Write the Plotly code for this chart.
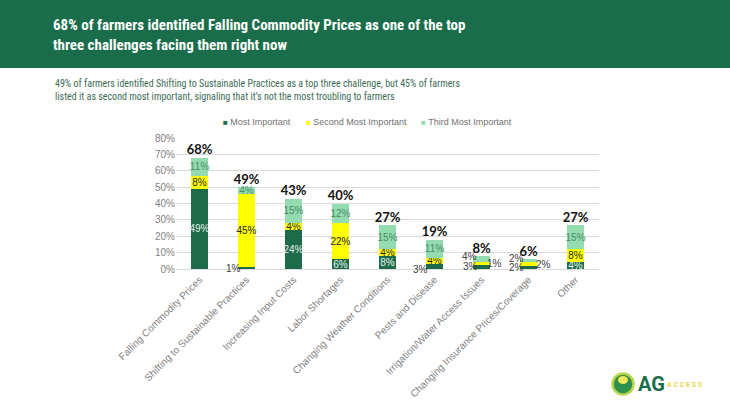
import plotly.graph_objects as go

categories = ["Falling Commodity Prices", "Shifting to Sustainable Practices", "Increasing Input Costs",
              "Labor Shortages", "Changing Weather Conditions", "Pests and Disease",
              "Irrigation/Water Access Issues", "Changing Insurance Prices/Coverage", "Other"]
most = [49, 1, 24, 6, 8, 3, 3, 2, 4]
second = [8, 45, 4, 22, 4, 4, 1, 2, 8]
third = [11, 4, 15, 12, 15, 11, 4, 2, 15]
totals = [68, 49, 43, 40, 27, 19, 8, 6, 27]
series_names = ["Most Important", "Second Most Important", "Third Most Important"]
y_ticks = [0, 10, 20, 30, 40, 50, 60, 70, 80]

# labels drawn outside their segment: (category index, series index, x shift, y shift)
outside = [(1, 0, -13, 0), (5, 0, -14, -3), (6, 0, -11, 0), (6, 1, 13, 0), (6, 2, -12, 3),
           (7, 0, -12, 0), (7, 1, 15, 0), (7, 2, -12, 2)]

W, H = 730, 410
ML, MR, MT, MB = 176, 131, 138, 141
PW, PH = W - ML - MR, H - MT - MB


def px2x(px):
    return (px - ML) / PW


def px2y(py):
    return (H - MB - py) / PH


colors = ["#1d6b48", "#ffff00", "#93dcb0"]
text_colors = ["#e8f4ec", "#262626", "#4d8a66"]
values = [most, second, third]
outside_set = {(c, s) for c, s, _, _ in outside}
axis_gray = "#7f7f7f"

fig = go.Figure()
for s, (name, vals) in enumerate(zip(series_names, values)):
    texts = ["" if (i, s) in outside_set else f"{v}%" for i, v in enumerate(vals)]
    fig.add_trace(go.Bar(
        name=name, x=categories, y=vals, marker_color=colors[s], marker_line_width=0,
        text=texts, textposition="inside", insidetextanchor="middle", textangle=0,
        constraintext="none", cliponaxis=False, showlegend=False,
        textfont=dict(family="Liberation Sans, Arial", size=10, color=text_colors[s]),
        hoverinfo="x+y",
    ))

fig.add_trace(go.Scatter(
    x=categories, y=[sum(v) for v in zip(most, second, third)], mode="text",
    text=[f"<b>{t}%</b>" for t in totals], textposition="top center", showlegend=False,
    textfont=dict(family="Lato, Liberation Sans", size=13, color="#111111"),
    cliponaxis=False, hoverinfo="skip",
))

annotations = []
for c, s, xs, ys in outside:
    base = sum(values[k][c] for k in range(s))
    annotations.append(dict(
        x=categories[c], y=base + values[s][c] / 2, xref="x", yref="y", text=f"{values[s][c]}%",
        showarrow=False, xshift=xs, yshift=ys,
        font=dict(family="Liberation Sans, Arial", size=10, color="#404040"),
    ))

# legend entries
legend_x = [221, 304, 419]
for s, name in enumerate(series_names):
    annotations.append(dict(
        x=px2x(legend_x[s]), y=px2y(122), xref="paper", yref="paper", xanchor="left", yanchor="middle",
        showarrow=False,
        text=f'<span style="color:{colors[s]};font-size:8px">\u25a0</span> {name}',
        font=dict(family="Liberation Sans, Arial", size=9, color="#6f6f6f"),
    ))

annotations.append(dict(
    x=px2x(53), y=px2y(90), xref="paper", yref="paper", xanchor="left", yanchor="middle",
    align="left", showarrow=False,
    text="49% of farmers identified Shifting to Sustainable Practices as a top three challenge, but 45% of farmers<br>"
         "listed it as second most important, signaling that it\u2019s not the most troubling to farmers",
    font=dict(family="Roboto Condensed, Roboto", size=10, color="#3d6b55"),
))

# logo text
annotations.append(dict(x=px2x(636), y=px2y(384), xref="paper", yref="paper", xanchor="left",
                        yanchor="middle", showarrow=False, text="<b>AG</b>",
                        font=dict(family="Roboto, Liberation Sans", size=20, color="#1a6d4a")))
annotations.append(dict(x=px2x(665), y=px2y(385), xref="paper", yref="paper", xanchor="left",
                        yanchor="middle", showarrow=False, text="<b>A C C E S S</b>",
                        font=dict(family="Roboto, Liberation Sans", size=7, color="#e8d54a")))

shapes = [
    dict(type="rect", xref="paper", yref="paper", x0=px2x(-5), x1=px2x(735), y0=px2y(68), y1=px2y(-5),
         fillcolor="#1a6d4a", line_width=0, layer="below"),
    dict(type="circle", xref="paper", yref="paper", x0=px2x(612.5), x1=px2x(633.5),
         y0=px2y(394.5), y1=px2y(373.5), fillcolor="#2f8f4f", line=dict(color="#b9d446", width=2.5)),
    dict(type="circle", xref="paper", yref="paper", x0=px2x(618), x1=px2x(628),
         y0=px2y(384), y1=px2y(376), fillcolor="#f2e65a", line_width=0),
]

fig.update_layout(
    width=W, height=H, barmode="stack", bargap=0.645, template="none", showlegend=False,
    margin=dict(l=ML, r=MR, t=MT, b=MB, autoexpand=False),
    paper_bgcolor="white", plot_bgcolor="white",
    title=dict(text="<b>68% of farmers identified Falling Commodity Prices as one of the top<br>"
                    "three challenges facing them right now</b>",
               xref="container", yref="container", x=53 / W, xanchor="left", y=1 - 30 / H, yanchor="middle",
               font=dict(family="Roboto Condensed, Roboto", size=15, color="white")),
    xaxis=dict(tickangle=-45, tickfont=dict(family="Liberation Sans, Arial", size=10, color=axis_gray),
               showline=True, linecolor="#d9d9d9", linewidth=1, ticks="", showgrid=False,
               automargin=False),
    yaxis=dict(range=[0, 80], tickvals=y_ticks, ticktext=[f"{t}%" for t in y_ticks],
               tickfont=dict(family="Liberation Sans, Arial", size=10, color=axis_gray),
               showgrid=True, gridcolor="#d9d9d9", gridwidth=1, zeroline=False, showline=False,
               ticks="", automargin=False),
    annotations=annotations, shapes=shapes,
    hovermode="closest",
)

fig.write_html("out.html", config={"displayModeBar": False},
               post_script="document.body.style.margin='0';document.body.style.overflow='hidden';")
